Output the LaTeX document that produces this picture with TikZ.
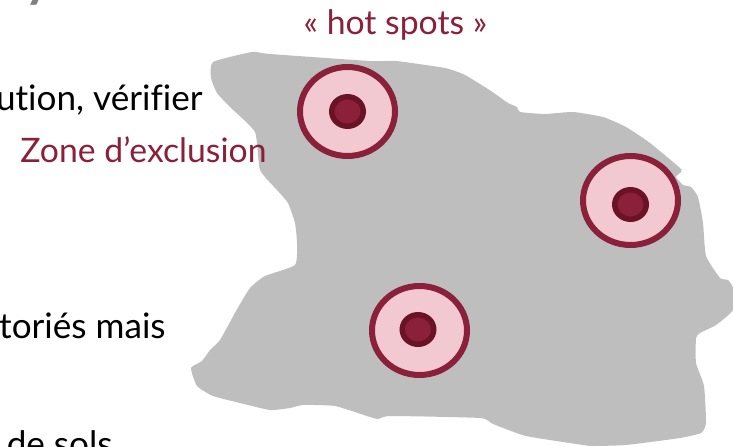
\documentclass[tikz,border=0pt]{standalone}
\usepackage{fontspec}
\setmainfont[Ligatures=NoCommon]{Lato}
\usepackage{xcolor}
\usetikzlibrary{positioning,shapes.geometric}
\definecolor{hotred}{HTML}{8A2039}
\definecolor{hotdark}{HTML}{6A1226}
\definecolor{hotpink}{HTML}{F2C9D1}
\definecolor{soilgray}{HTML}{BEBEBE}
\tikzset{
  zone/.style={draw=hotred,fill=hotpink,ellipse,line width=0.12cm,
               minimum width=1.9cm,minimum height=1.78cm,inner sep=0pt},
  spot/.style={draw=hotdark,fill=hotred,ellipse,line width=0.11cm,
               minimum width=0.63cm,minimum height=0.59cm,inner sep=0pt},
  bodytxt/.style={font=\fontsize{20}{24}\selectfont,text=black,anchor=base east,inner sep=0pt},
  redtxt/.style={font=\fontsize{19.2}{24}\selectfont,text=hotred,anchor=base,inner sep=0pt},
}
\begin{document}
\begin{tikzpicture}[x=0.02cm,y=-0.02cm]
\useasboundingbox (0,0) rectangle (733,446);
\clip (0,0) rectangle (733,446);

%% ---------- soil plot ----------
\fill[soilgray] plot[smooth cycle,tension=0.3] coordinates {
  (252,52) (270,54) (370,61) (396,61) (445,68) (465,75) (491,91) (508,103)
  (517,107) (520,112) (545,114) (573,112) (603,117) (626,127) (650,143)
  (680,168) (681,172) (676,177) (683,185) (691,187) (698,197) (703,223)
  (706,256) (720,278) (728,280) (733,288) (733,310) (716,325) (700,333)
  (696,338) (696,363) (704,386) (706,423) (701,433) (680,438) (626,445)
  (593,446) (583,445) (526,436) (493,424) (480,418) (391,416) (378,419)
  (370,417) (335,406) (303,405) (290,408) (270,410) (240,403) (213,396)
  (197,386) (191,368) (202,361) (210,350) (220,340) (236,311) (250,288)
  (265,276) (295,265) (297,243) (295,223) (288,203) (277,190) (260,170)
  (255,132) (230,107) (217,93) (211,78) (213,62)
};

%% ---------- hot spots ----------
\node[zone] (zoneA) at (347.5,111.5) {};
\node[zone] (zoneB) at (630.5,200.5) {};
\node[zone] (zoneC) at (419.5,330.5) {};
\node[spot] (spotA) at (347.5,111.5) {};
\node[spot] (spotB) at (630.5,204.5) {};
\node[spot] (spotC) at (418,329.5) {};

%% ---------- labels ----------
\node[redtxt] (hot) at (395.5,35) {« hot spots »};
\node[redtxt] (excl) at (143.5,162.5) {Zone d’exclusion};

%% cut-off body text
\node[bodytxt] (ligneA) at (203,110.5) {ution, vérifier};
\node[bodytxt] (ligneB) at (166,338.5) {toriés mais};
\node[bodytxt] (ligneC) at (113,456) {de sols};
\node[font=\fontsize{30}{30}\selectfont\bfseries,text=gray,anchor=base,inner sep=0pt] (titre) at (38,-3) {y};
\end{tikzpicture}
\end{document}
